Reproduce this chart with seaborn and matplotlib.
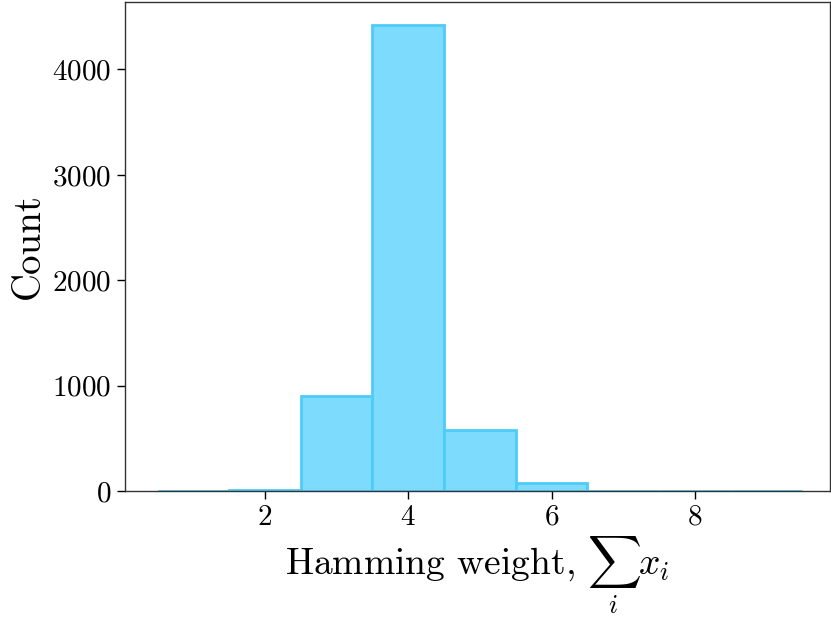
import seaborn as sns
import pandas as pd
import matplotlib.pyplot as plt

weights = [1, 2, 3, 4, 5, 6, 7, 8, 9]
counts = [4, 12, 900, 4420, 580, 78, 4, 3, 3]

df = pd.DataFrame({'weight': weights, 'count': counts})

sns.set_style('ticks')
plt.rcParams['font.family'] = 'serif'
plt.rcParams['font.serif'] = ['cmr10']
plt.rcParams['mathtext.fontset'] = 'cm'
plt.rcParams['axes.formatter.use_mathtext'] = True
plt.rcParams['axes.unicode_minus'] = False
plt.rcParams['text.color'] = 'black'
plt.rcParams['axes.labelcolor'] = 'black'
plt.rcParams['xtick.color'] = 'black'
plt.rcParams['ytick.color'] = 'black'

fig = plt.figure(figsize=(8.31, 6.17), dpi=100)
ax = fig.add_axes([0.150, 0.204, 0.849, 0.793])
sns.histplot(data=df, x='weight', weights='count', discrete=True,
             facecolor='#7ddcfe', edgecolor='#4dcbf9', linewidth=2,
             alpha=1, ax=ax)

ax.set_xlim(0.04, 9.89)
ax.set_xticks([2, 4, 6, 8])
ax.set_yticks([0, 1000, 2000, 3000, 4000])
ax.tick_params(labelsize=21, length=6, width=1)
for s in ax.spines.values():
    s.set_linewidth(1)
    s.set_color('#333333')
ax.set_xlabel(r'Hamming weight, $\sum_i x_i$', fontsize=27, labelpad=3)
ax.set_ylabel('Count', fontsize=28)

fig.savefig('out.png', dpi=100)
